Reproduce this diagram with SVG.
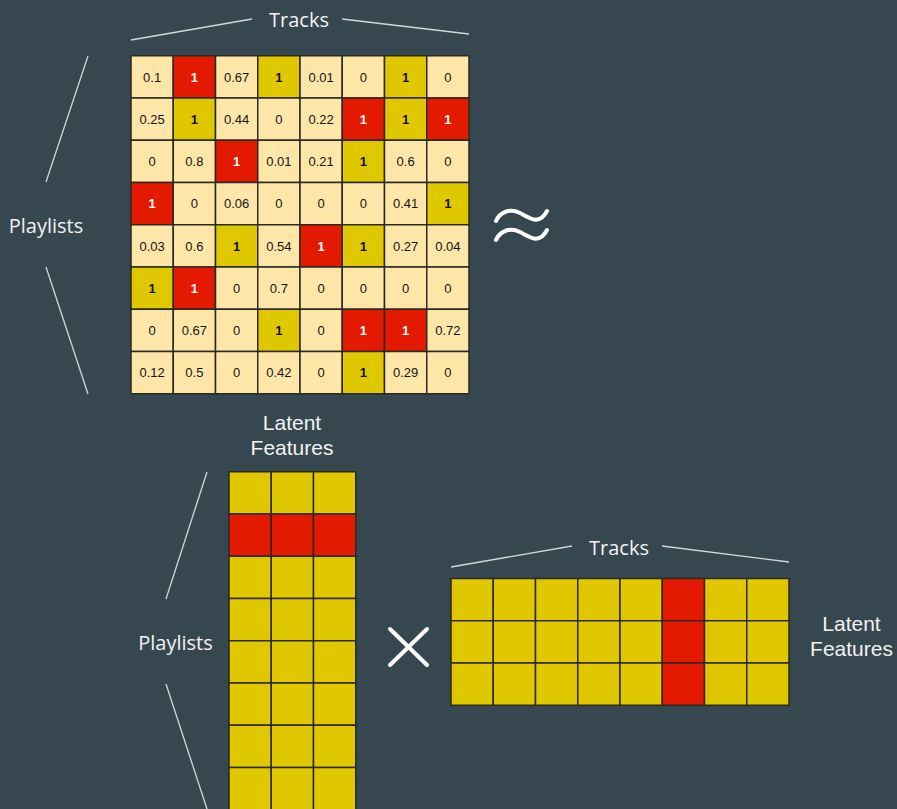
<svg xmlns="http://www.w3.org/2000/svg" width="897" height="809" viewBox="0 0 897 809">
<style>
.bg{fill:#37474f}
.l{fill:#fee6a8;stroke:#2a2a22;stroke-width:1.5}
.y{fill:#e0c800;stroke:#2a2a22;stroke-width:1.5}
.r{fill:#e31a00;stroke:#2a2a22;stroke-width:1.5}
.n{font-family:"Liberation Sans",Arial,sans-serif;font-size:13px;fill:#141414;text-anchor:middle}
.b{font-weight:bold;fill:#111}
.w{font-weight:bold;fill:#ffffff}
.lab{font-family:"Open Sans","Noto Sans",sans-serif;font-size:20px;fill:#f2f2f2;text-anchor:middle}
.lab2{font-family:"Liberation Sans",Arial,sans-serif;font-size:21px;fill:#f2f2f2;text-anchor:middle}
.br{stroke:#d4d6d8;stroke-width:1.3;fill:none}
.op{stroke:#ffffff;stroke-width:4;fill:none;stroke-linecap:round}
</style>
<defs>
<rect id="cl" class="l" width="42.25" height="42.25"/>
<rect id="cy" class="y" width="42.25" height="42.25"/>
<rect id="cr" class="r" width="42.25" height="42.25"/>
</defs>
<rect class="bg" x="0" y="0" width="897" height="809"/>

<g id="connectors">
<line class="br" x1="131" y1="40" x2="252" y2="19"/>
<line class="br" x1="342" y1="19" x2="469" y2="34"/>
<line class="br" x1="88" y1="56" x2="46" y2="182"/>
<line class="br" x1="46" y1="267" x2="88" y2="394"/>
<line class="br" x1="207" y1="472" x2="166" y2="599"/>
<line class="br" x1="166" y1="684" x2="208" y2="812"/>
<line class="br" x1="451" y1="567" x2="572" y2="546"/>
<line class="br" x1="662" y1="546" x2="789" y2="562"/>
</g>

<g id="label-tracks-top"><text class="lab" x="299" y="27">Tracks</text></g>
<g id="label-playlists-top"><text class="lab" x="46" y="233">Playlists</text></g>
<g id="label-latent-top"><text class="lab2" x="292" y="430">Latent</text><text class="lab2" x="292" y="455">Features</text></g>
<g id="label-playlists-bottom"><text class="lab" x="175.5" y="650">Playlists</text></g>
<g id="label-tracks-bottom"><text class="lab" x="619" y="555">Tracks</text></g>
<g id="label-latent-right"><text class="lab2" x="851.5" y="631">Latent</text><text class="lab2" x="851.5" y="656">Features</text></g>

<g id="approx">
<path class="op" d="M496,221 C500,212 510,208 520,213 C530,218 539,226 547,211"/>
<path class="op" d="M496,240 C500,231 510,227 520,232 C530,237 539,245 547,230"/>
</g>
<g id="times">
<line class="op" x1="390" y1="629" x2="427" y2="665" stroke-width="3"/>
<line class="op" x1="427" y1="629" x2="390" y2="665" stroke-width="3"/>
</g>

<g id="ratings-matrix">
<g transform="translate(131,55.75)"><use href="#cl"/><text class="n" x="21.1" y="25.8">0.1</text></g>
<g transform="translate(173.25,55.75)"><use href="#cr"/><text class="n w" x="21.1" y="25.8">1</text></g>
<g transform="translate(215.5,55.75)"><use href="#cl"/><text class="n" x="21.1" y="25.8">0.67</text></g>
<g transform="translate(257.75,55.75)"><use href="#cy"/><text class="n b" x="21.1" y="25.8">1</text></g>
<g transform="translate(300,55.75)"><use href="#cl"/><text class="n" x="21.1" y="25.8">0.01</text></g>
<g transform="translate(342.25,55.75)"><use href="#cl"/><text class="n" x="21.1" y="25.8">0</text></g>
<g transform="translate(384.5,55.75)"><use href="#cy"/><text class="n b" x="21.1" y="25.8">1</text></g>
<g transform="translate(426.75,55.75)"><use href="#cl"/><text class="n" x="21.1" y="25.8">0</text></g>
<g transform="translate(131,98)"><use href="#cl"/><text class="n" x="21.1" y="25.8">0.25</text></g>
<g transform="translate(173.25,98)"><use href="#cy"/><text class="n b" x="21.1" y="25.8">1</text></g>
<g transform="translate(215.5,98)"><use href="#cl"/><text class="n" x="21.1" y="25.8">0.44</text></g>
<g transform="translate(257.75,98)"><use href="#cl"/><text class="n" x="21.1" y="25.8">0</text></g>
<g transform="translate(300,98)"><use href="#cl"/><text class="n" x="21.1" y="25.8">0.22</text></g>
<g transform="translate(342.25,98)"><use href="#cr"/><text class="n w" x="21.1" y="25.8">1</text></g>
<g transform="translate(384.5,98)"><use href="#cy"/><text class="n b" x="21.1" y="25.8">1</text></g>
<g transform="translate(426.75,98)"><use href="#cr"/><text class="n w" x="21.1" y="25.8">1</text></g>
<g transform="translate(131,140.25)"><use href="#cl"/><text class="n" x="21.1" y="25.8">0</text></g>
<g transform="translate(173.25,140.25)"><use href="#cl"/><text class="n" x="21.1" y="25.8">0.8</text></g>
<g transform="translate(215.5,140.25)"><use href="#cr"/><text class="n w" x="21.1" y="25.8">1</text></g>
<g transform="translate(257.75,140.25)"><use href="#cl"/><text class="n" x="21.1" y="25.8">0.01</text></g>
<g transform="translate(300,140.25)"><use href="#cl"/><text class="n" x="21.1" y="25.8">0.21</text></g>
<g transform="translate(342.25,140.25)"><use href="#cy"/><text class="n b" x="21.1" y="25.8">1</text></g>
<g transform="translate(384.5,140.25)"><use href="#cl"/><text class="n" x="21.1" y="25.8">0.6</text></g>
<g transform="translate(426.75,140.25)"><use href="#cl"/><text class="n" x="21.1" y="25.8">0</text></g>
<g transform="translate(131,182.5)"><use href="#cr"/><text class="n w" x="21.1" y="25.8">1</text></g>
<g transform="translate(173.25,182.5)"><use href="#cl"/><text class="n" x="21.1" y="25.8">0</text></g>
<g transform="translate(215.5,182.5)"><use href="#cl"/><text class="n" x="21.1" y="25.8">0.06</text></g>
<g transform="translate(257.75,182.5)"><use href="#cl"/><text class="n" x="21.1" y="25.8">0</text></g>
<g transform="translate(300,182.5)"><use href="#cl"/><text class="n" x="21.1" y="25.8">0</text></g>
<g transform="translate(342.25,182.5)"><use href="#cl"/><text class="n" x="21.1" y="25.8">0</text></g>
<g transform="translate(384.5,182.5)"><use href="#cl"/><text class="n" x="21.1" y="25.8">0.41</text></g>
<g transform="translate(426.75,182.5)"><use href="#cy"/><text class="n b" x="21.1" y="25.8">1</text></g>
<g transform="translate(131,224.75)"><use href="#cl"/><text class="n" x="21.1" y="25.8">0.03</text></g>
<g transform="translate(173.25,224.75)"><use href="#cl"/><text class="n" x="21.1" y="25.8">0.6</text></g>
<g transform="translate(215.5,224.75)"><use href="#cy"/><text class="n b" x="21.1" y="25.8">1</text></g>
<g transform="translate(257.75,224.75)"><use href="#cl"/><text class="n" x="21.1" y="25.8">0.54</text></g>
<g transform="translate(300,224.75)"><use href="#cr"/><text class="n w" x="21.1" y="25.8">1</text></g>
<g transform="translate(342.25,224.75)"><use href="#cy"/><text class="n b" x="21.1" y="25.8">1</text></g>
<g transform="translate(384.5,224.75)"><use href="#cl"/><text class="n" x="21.1" y="25.8">0.27</text></g>
<g transform="translate(426.75,224.75)"><use href="#cl"/><text class="n" x="21.1" y="25.8">0.04</text></g>
<g transform="translate(131,267)"><use href="#cy"/><text class="n b" x="21.1" y="25.8">1</text></g>
<g transform="translate(173.25,267)"><use href="#cr"/><text class="n w" x="21.1" y="25.8">1</text></g>
<g transform="translate(215.5,267)"><use href="#cl"/><text class="n" x="21.1" y="25.8">0</text></g>
<g transform="translate(257.75,267)"><use href="#cl"/><text class="n" x="21.1" y="25.8">0.7</text></g>
<g transform="translate(300,267)"><use href="#cl"/><text class="n" x="21.1" y="25.8">0</text></g>
<g transform="translate(342.25,267)"><use href="#cl"/><text class="n" x="21.1" y="25.8">0</text></g>
<g transform="translate(384.5,267)"><use href="#cl"/><text class="n" x="21.1" y="25.8">0</text></g>
<g transform="translate(426.75,267)"><use href="#cl"/><text class="n" x="21.1" y="25.8">0</text></g>
<g transform="translate(131,309.25)"><use href="#cl"/><text class="n" x="21.1" y="25.8">0</text></g>
<g transform="translate(173.25,309.25)"><use href="#cl"/><text class="n" x="21.1" y="25.8">0.67</text></g>
<g transform="translate(215.5,309.25)"><use href="#cl"/><text class="n" x="21.1" y="25.8">0</text></g>
<g transform="translate(257.75,309.25)"><use href="#cy"/><text class="n b" x="21.1" y="25.8">1</text></g>
<g transform="translate(300,309.25)"><use href="#cl"/><text class="n" x="21.1" y="25.8">0</text></g>
<g transform="translate(342.25,309.25)"><use href="#cr"/><text class="n w" x="21.1" y="25.8">1</text></g>
<g transform="translate(384.5,309.25)"><use href="#cr"/><text class="n w" x="21.1" y="25.8">1</text></g>
<g transform="translate(426.75,309.25)"><use href="#cl"/><text class="n" x="21.1" y="25.8">0.72</text></g>
<g transform="translate(131,351.5)"><use href="#cl"/><text class="n" x="21.1" y="25.8">0.12</text></g>
<g transform="translate(173.25,351.5)"><use href="#cl"/><text class="n" x="21.1" y="25.8">0.5</text></g>
<g transform="translate(215.5,351.5)"><use href="#cl"/><text class="n" x="21.1" y="25.8">0</text></g>
<g transform="translate(257.75,351.5)"><use href="#cl"/><text class="n" x="21.1" y="25.8">0.42</text></g>
<g transform="translate(300,351.5)"><use href="#cl"/><text class="n" x="21.1" y="25.8">0</text></g>
<g transform="translate(342.25,351.5)"><use href="#cy"/><text class="n b" x="21.1" y="25.8">1</text></g>
<g transform="translate(384.5,351.5)"><use href="#cl"/><text class="n" x="21.1" y="25.8">0.29</text></g>
<g transform="translate(426.75,351.5)"><use href="#cl"/><text class="n" x="21.1" y="25.8">0</text></g>
</g>

<g id="playlist-factors">
<use href="#cy" x="229" y="471.75"/><use href="#cy" x="271.25" y="471.75"/><use href="#cy" x="313.5" y="471.75"/>
<use href="#cr" x="229" y="514"/><use href="#cr" x="271.25" y="514"/><use href="#cr" x="313.5" y="514"/>
<use href="#cy" x="229" y="556.25"/><use href="#cy" x="271.25" y="556.25"/><use href="#cy" x="313.5" y="556.25"/>
<use href="#cy" x="229" y="598.5"/><use href="#cy" x="271.25" y="598.5"/><use href="#cy" x="313.5" y="598.5"/>
<use href="#cy" x="229" y="640.75"/><use href="#cy" x="271.25" y="640.75"/><use href="#cy" x="313.5" y="640.75"/>
<use href="#cy" x="229" y="683"/><use href="#cy" x="271.25" y="683"/><use href="#cy" x="313.5" y="683"/>
<use href="#cy" x="229" y="725.25"/><use href="#cy" x="271.25" y="725.25"/><use href="#cy" x="313.5" y="725.25"/>
<use href="#cy" x="229" y="767.5"/><use href="#cy" x="271.25" y="767.5"/><use href="#cy" x="313.5" y="767.5"/>
</g>

<g id="track-factors">
<use href="#cy" x="451" y="578.5"/><use href="#cy" x="493.25" y="578.5"/><use href="#cy" x="535.5" y="578.5"/><use href="#cy" x="577.75" y="578.5"/><use href="#cy" x="620" y="578.5"/><use href="#cr" x="662.25" y="578.5"/><use href="#cy" x="704.5" y="578.5"/><use href="#cy" x="746.75" y="578.5"/>
<use href="#cy" x="451" y="620.75"/><use href="#cy" x="493.25" y="620.75"/><use href="#cy" x="535.5" y="620.75"/><use href="#cy" x="577.75" y="620.75"/><use href="#cy" x="620" y="620.75"/><use href="#cr" x="662.25" y="620.75"/><use href="#cy" x="704.5" y="620.75"/><use href="#cy" x="746.75" y="620.75"/>
<use href="#cy" x="451" y="663"/><use href="#cy" x="493.25" y="663"/><use href="#cy" x="535.5" y="663"/><use href="#cy" x="577.75" y="663"/><use href="#cy" x="620" y="663"/><use href="#cr" x="662.25" y="663"/><use href="#cy" x="704.5" y="663"/><use href="#cy" x="746.75" y="663"/>
</g>
</svg>
